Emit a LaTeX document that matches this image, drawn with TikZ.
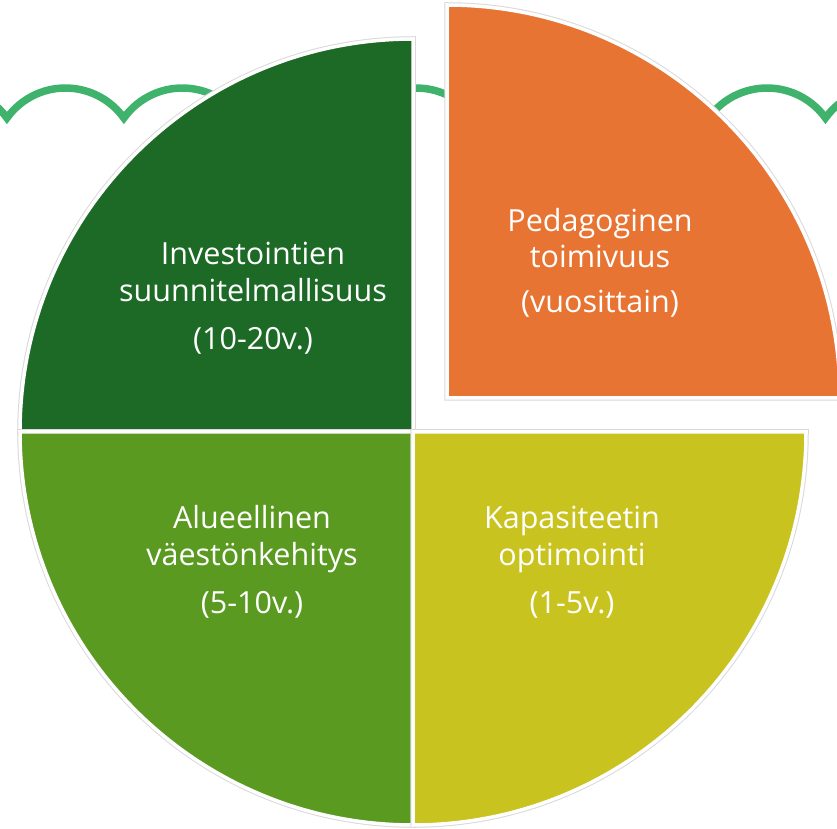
\documentclass[tikz,border=0pt]{standalone}
\usepackage{fontspec}
\setmainfont{Open Sans}
\usetikzlibrary{positioning}
\definecolor{darkleaf}{RGB}{28,106,37}
\definecolor{leafgreen}{RGB}{90,154,32}
\definecolor{oliveyellow}{RGB}{201,195,32}
\definecolor{carrot}{RGB}{232,116,51}
\definecolor{wavegreen}{RGB}{63,179,108}
\begin{document}
\begin{tikzpicture}[x=1pt, y=1pt,
      quarter/.style={draw=white, line width=3.5pt, preaction={draw=gray!30, line width=5.5pt}},
      quartertext/.style={text=white, anchor=base, inner sep=0pt, font=\fontsize{30.5}{36}\selectfont},
      wave/.style={draw=wavegreen, line width=7.5pt, line join=miter}]
      \useasboundingbox (0,0) rectangle (837,828);
      \clip (0,0) rectangle (837,828);
      % wavy line behind the circle
      \draw[wave] (-110,710) \foreach \k in {1,...,9} { arc[start angle=144.3, end angle=35.7, radius=72] };
      % the four quarters
      \coordinate (c) at (413,396);
      \coordinate (co) at (447,430);
      \path[quarter, fill=darkleaf] (c) -- ++(180:393) arc[start angle=180, end angle=90, radius=393] -- cycle;
      \path[quarter, fill=leafgreen] (c) -- ++(180:393) arc[start angle=180, end angle=270, radius=393] -- cycle;
      \path[quarter, fill=oliveyellow] (c) -- ++(270:393) arc[start angle=270, end angle=360, radius=393] -- cycle;
      \path[quarter, fill=carrot] (co) -- ++(0:393) arc[start angle=0, end angle=90, radius=393] -- cycle;
      % texts
      \node[quartertext] (tl1) at (253,563) {Investointien};
      \node[quartertext] (tl2) at (253,526) {suunnitelmallisuus};
      \node[quartertext] (tl3) at (253,478) {(10-20v.)};
      \node[quartertext] (tr1) at (600,596) {Pedagoginen};
      \node[quartertext] (tr2) at (600,560) {toimivuus};
      \node[quartertext] (tr3) at (600,515) {(vuosittain)};
      \node[quartertext] (bl1) at (252,300) {Alueellinen};
      \node[quartertext] (bl2) at (252,263) {väestönkehitys};
      \node[quartertext] (bl3) at (252,215) {(5-10v.)};
      \node[quartertext] (br1) at (572,300) {Kapasiteetin};
      \node[quartertext] (br2) at (572,263) {optimointi};
      \node[quartertext] (br3) at (572,215) {(1-5v.)};
    \end{tikzpicture}
\end{document}
